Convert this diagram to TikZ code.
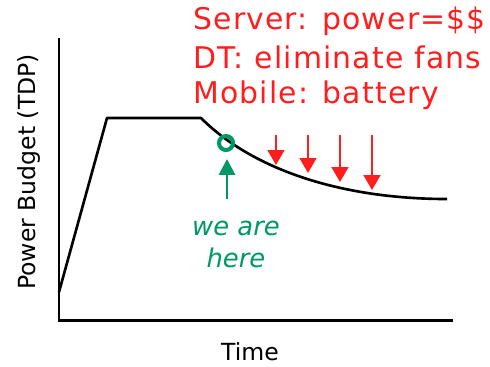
\documentclass[tikz,border=0pt]{standalone}
\usepackage{fontspec}
\setmainfont{DejaVu Sans}
\newfontfamily\claimfont[LetterSpace=4]{DejaVu Sans}
\usetikzlibrary{arrows.meta}
\definecolor{hotred}{RGB}{255,30,30}
\definecolor{heregreen}{RGB}{0,153,102}

\begin{document}
\begin{tikzpicture}[x=0.02cm,y=-0.02cm,
    axis/.style={line width=1.7pt},
    budget/.style={line width=1.5pt,line join=round},
    squeeze/.style={hotred,line width=1.4pt,-{Triangle[width=9.5pt,length=8.5pt]}},
    pointer/.style={heregreen,line width=1.7pt,-{Triangle[width=9pt,length=9pt]}},
    claim/.style={hotred,anchor=base west,inner sep=0pt,font=\claimfont\fontsize{17}{20}\selectfont},
    note/.style={heregreen,anchor=base,inner sep=0pt,font=\fontsize{14.7}{18}\selectfont\itshape},
    label/.style={font=\fontsize{13.4}{16}\selectfont}]
  \useasboundingbox (0,0) rectangle (490,366);
  % axes
  \coordinate (ytop) at (59,38);
  \coordinate (O) at (59,320);
  \coordinate (xend) at (453,320);
  \draw[axis] (ytop) -- (O) -- (xend);
  \node[label,rotate=90] (ylab) at (29,172) {Power Budget (TDP)};
  \node[label] (xlab) at (250,352) {Time};
  % budget curve
  \coordinate (start) at (59,292);
  \coordinate (rise) at (107,118);
  \coordinate (fall) at (201,118);
  \coordinate (tail) at (447,199);
  \draw[budget] (start) -- (rise) -- (fall) .. controls (252,169) and (340,199) .. (tail);
  % we are here
  \node[circle,draw=heregreen,line width=2.3pt,minimum size=0.28cm,inner sep=0pt] (here) at (226,143) {};
  \coordinate (hfoot) at (227,199);
  \coordinate (htip) at (227,159);
  \draw[pointer] (hfoot) -- (htip);
  \node[note] (weare) at (236,235) {we are};
  \node[note] (herelab) at (236,267) {here};
  % pressure arrows
  \foreach \name/\x/\y in {a/276/165,b/308/173,c/340/182,d/372/190}{
    \coordinate (\name top) at (\x,135);
    \coordinate (\name bot) at (\x,\y);
    \draw[squeeze] (\name top) -- (\name bot);
  }
  % reasons
  \node[claim] (server) at (193,29) {Server: power=\$\$};
  \node[claim] (desk) at (193,68) {DT: eliminate fans};
  \node[claim] (mobile) at (193,103) {Mobile: battery};
\end{tikzpicture}
\end{document}
